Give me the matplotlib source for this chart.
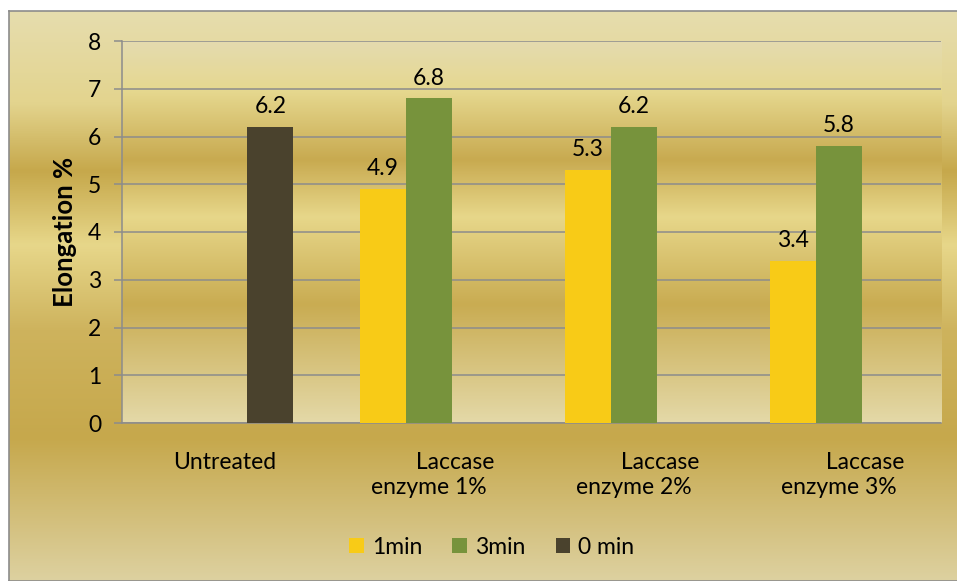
import numpy as np
import matplotlib
matplotlib.use("Agg")
import matplotlib.pyplot as plt
from matplotlib.colors import LinearSegmentedColormap

plt.rcParams['font.family'] = ['Lato', 'DejaVu Sans']

categories = ["Untreated", "         Laccase\nenzyme 1%", "         Laccase\nenzyme 2%",
              "         Laccase\nenzyme 3%"]
series_names = ["1min", "3min", "0 min"]
vals_1min = [np.nan, 4.9, 5.3, 3.4]
vals_3min = [np.nan, 6.8, 6.2, 5.8]
vals_0min = [6.2, np.nan, np.nan, np.nan]
colors = ["#F8CB17", "#77933C", "#4A422D"]

FS = 16.5


def gradient(ax, stops, zorder=0):
    cmap = LinearSegmentedColormap.from_list("g", stops)
    grad = np.linspace(0, 1, 256).reshape(-1, 1)
    ax.imshow(grad, cmap=cmap, aspect="auto", extent=[0, 1, 0, 1],
              transform=ax.transAxes, origin="upper", zorder=zorder)


fig = plt.figure(figsize=(9.57, 5.81), dpi=100)

# outer chart area
bg = fig.add_axes([9 / 957, 0, 1, 1 - 11 / 581], zorder=-1)
gradient(bg, [(0.0, "#E6DDAE"), (0.16, "#E3D48E"), (0.28, "#C6A84B"), (0.41, "#E7D78A"),
              (0.56, "#CEB35D"), (0.75, "#C6A84C"), (1.0, "#DDD1A0")])
bg.set_xticks([])
bg.set_yticks([])
for s in bg.spines.values():
    s.set_color("#8C8C8C")
    s.set_linewidth(1.2)

# plot area
ax = fig.add_axes([122 / 957, 1 - 423 / 581, (941 - 122) / 957, (423 - 41) / 581])
gradient(ax, [(0.0, "#E4DBAF"), (0.13, "#E6D88F"), (0.31, "#C8AA50"), (0.46, "#E7D78A"),
              (0.69, "#C9AC52"), (1.0, "#E4D9A8")])

x = np.arange(len(categories))
w = 0.225
for i, (vals, name) in enumerate(zip([vals_1min, vals_3min, vals_0min], series_names)):
    pos = x + (i - 1) * w
    ax.bar(pos, vals, width=w, color=colors[i], label=name, zorder=3)
    for p, v in zip(pos, vals):
        if not np.isnan(v):
            ax.annotate(f"{v:.1f}", (p, v), xytext=(0, 7), textcoords="offset points",
                        ha="center", va="bottom", fontsize=FS)

ax.set_xlim(-0.5, len(categories) - 0.5)
ax.set_ylim(0, 8)
ax.set_yticks(range(0, 9))
ax.yaxis.grid(True, color="#8C8C8C", linewidth=1.1, zorder=1)
ax.set_axisbelow(True)
ax.tick_params(axis="y", length=6, width=1.1, color="#8C8C8C", labelsize=FS, pad=9)
ax.set_xticks(x)
ax.set_xticklabels(categories, fontsize=FS, linespacing=1.2)
ax.tick_params(axis="x", length=0, pad=21)
for side in ["top", "right"]:
    ax.spines[side].set_visible(False)
for side in ["left", "bottom"]:
    ax.spines[side].set_color("#8C8C8C")
    ax.spines[side].set_linewidth(1.1)
ax.set_ylabel("Elongation %", fontsize=18.5, fontweight="bold", labelpad=8)

ax.legend(loc="center", bbox_to_anchor=(492 / 957, 1 - 547 / 581), bbox_transform=fig.transFigure,
          ncol=3, frameon=False, fontsize=FS, handlelength=0.65, handleheight=0.65,
          handletextpad=0.35, columnspacing=1.3)

fig.savefig("out.png", dpi=100)
